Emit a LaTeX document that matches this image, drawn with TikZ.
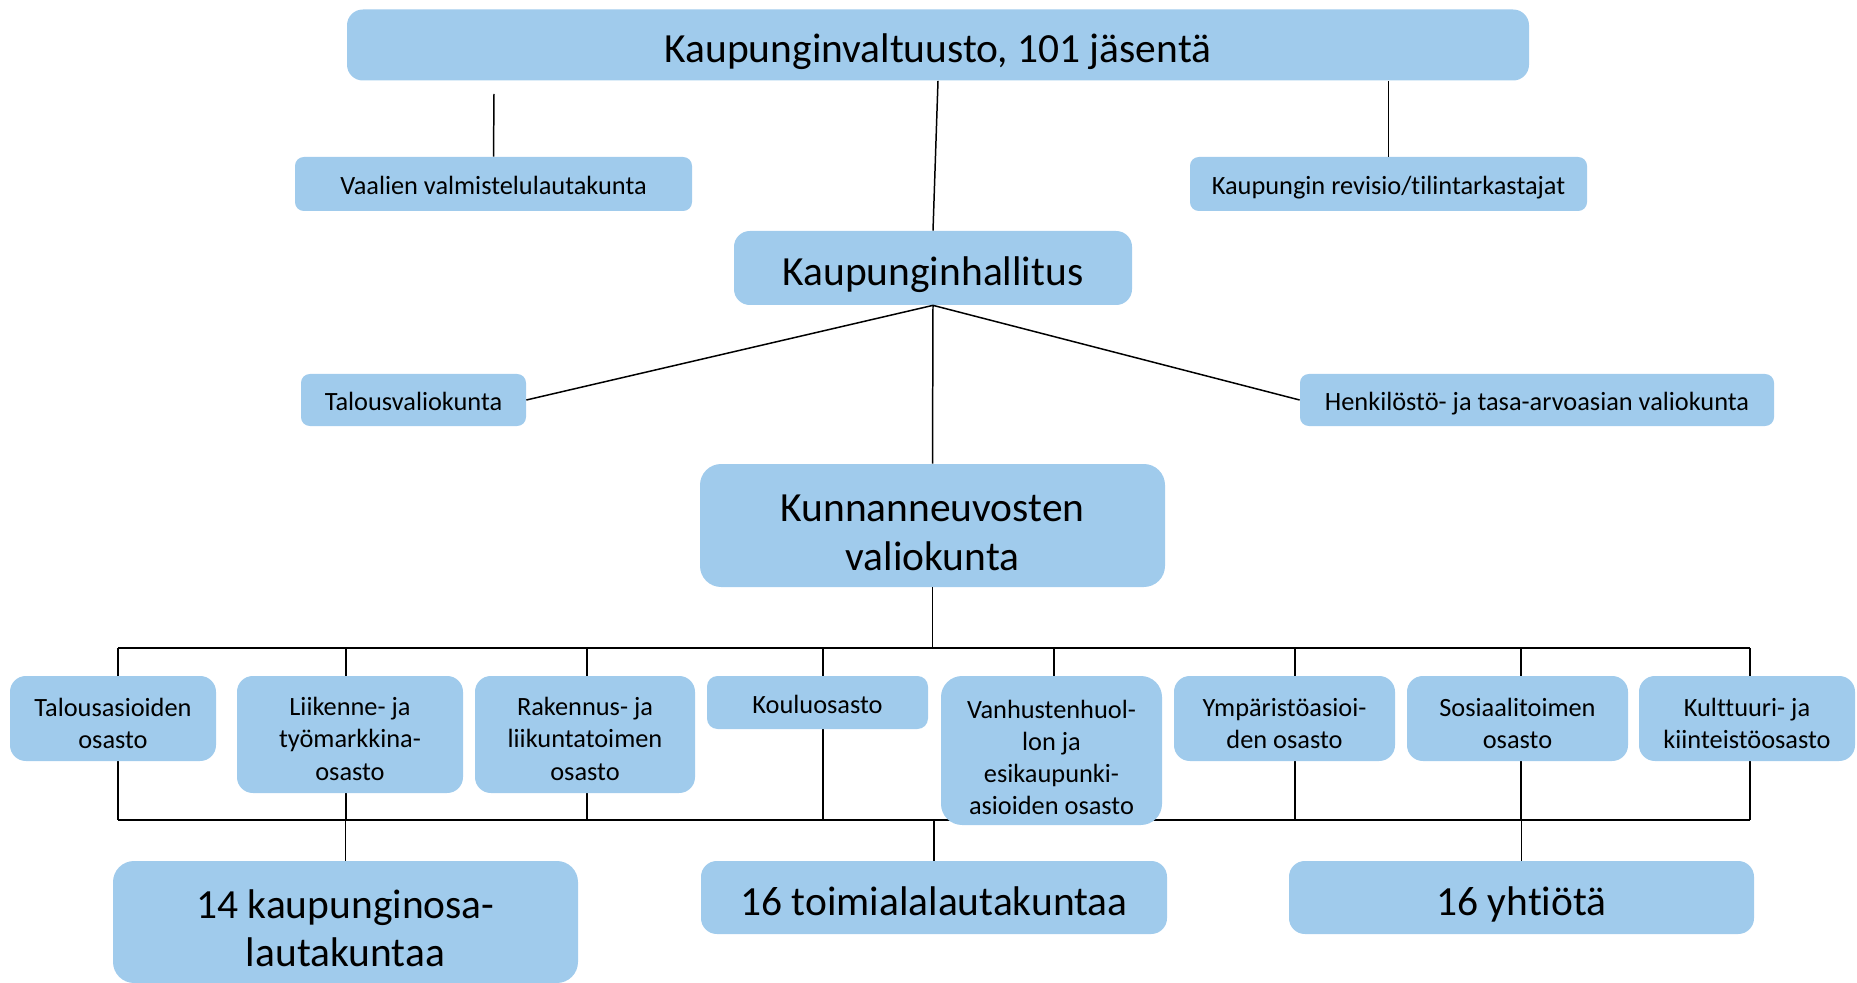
\documentclass[tikz,border=0pt]{standalone}
\usepackage{fontspec}
\setmainfont[Ligatures=NoCommon]{Carlito}
\usepackage{xcolor}
\usetikzlibrary{positioning,calc}
\definecolor{boxblue}{HTML}{A0CBEC}

\begin{document}
\begin{tikzpicture}[x=0.02cm,y=-0.02cm,
    box/.style={fill=boxblue,rounded corners=9pt,inner sep=0pt,align=center},
    bigbox/.style={box,font=\fontsize{23.6}{27.5}\selectfont},
    smallbox/.style={box,rounded corners=5pt,font=\fontsize{15}{18.4}\selectfont},
    deptbox/.style={box,rounded corners=9pt,font=\fontsize{15}{18.4}\selectfont},
    bigone/.style={text height=20.2pt,text depth=0pt},
    bigtwo/.style={text height=50.7pt,text depth=0pt},
    smallone/.style={text height=12.5pt,text depth=0pt},
    smalltwo/.style={text height=34pt,text depth=0pt},
    smallthree/.style={text height=51.8pt,text depth=0pt},
    smallfour/.style={text height=73.4pt,text depth=0pt},
    link/.style={line width=0.85pt},
    bus/.style={line width=1.4pt}]
    \useasboundingbox (0,0) rectangle (1857,983);

    % Lines first, boxes on top
    \coordinate (t1) at (118,648);  \coordinate (b1) at (118,820);
    \coordinate (t2) at (346,648);  \coordinate (b2) at (346,820);
    \coordinate (t3) at (587,648);  \coordinate (b3) at (587,820);
    \coordinate (t4) at (823,648);  \coordinate (b4) at (823,820);
    \coordinate (t5) at (1054,648); \coordinate (b5) at (1054,820);
    \coordinate (t6) at (1295,648); \coordinate (b6) at (1295,820);
    \coordinate (t7) at (1521,648); \coordinate (b7) at (1521,820);
    \coordinate (t8) at (1750,648); \coordinate (b8) at (1750,820);
    \coordinate (vaalitop) at (494,94);

    % Top level
    \node[bigbox,bigone,minimum width=1182*0.02cm,minimum height=71*0.02cm] (valtuusto) at (938,45) {Kaupunginvaltuusto, 101 jäsentä};
    \node[smallbox,smallone,minimum width=397*0.02cm,minimum height=54*0.02cm] (vaalit) at (493.5,184) {Vaalien valmistelulautakunta};
    \node[smallbox,smallone,minimum width=397*0.02cm,minimum height=54*0.02cm] (revisio) at (1388.5,184) {Kaupungin revisio/tilintarkastajat};
    \node[bigbox,bigone,minimum width=398*0.02cm,minimum height=74*0.02cm] (hallitus) at (933,268) {Kaupunginhallitus};

    % Valiokunnat
    \node[smallbox,smallone,minimum width=225*0.02cm,minimum height=52*0.02cm] (talous) at (413.5,400) {Talousvaliokunta};
    \node[smallbox,smallone,minimum width=474*0.02cm,minimum height=52*0.02cm] (henkilosto) at (1537,400) {Henkilöstö- ja tasa-arvoasian valiokunta};
    \node[bigbox,bigtwo,rounded corners=12pt,minimum width=465*0.02cm,minimum height=123*0.02cm] (kunnan) at (932.5,525.5) {Kunnanneuvosten\\valiokunta};

    \draw[link] (vaalitop) -- (vaalit.north);
    \draw[link] (revisio.north |- valtuusto.south) -- (revisio.north);
    \draw[link] (valtuusto.south) -- (hallitus.north);
    \draw[link] (hallitus.south) -- (talous.east);
    \draw[link] (hallitus.south) -- (henkilosto.west);
    \draw[link] (hallitus.south) -- (kunnan.north);

    % Buses
    \draw[link] (kunnan.south) -- (kunnan.south |- t1);
    \draw[bus] (t1) -- (t8);
    \draw[bus] (b1) -- (b8);
    \foreach \i in {1,...,8} {
        \draw[link] (t\i) -- (b\i);
    }

    % Bottom row
    \node[bigbox,bigtwo,rounded corners=12pt,minimum width=465*0.02cm,minimum height=122*0.02cm] (osat) at (345.5,922) {14 kaupunginosa-\\lautakuntaa};
    \node[bigbox,bigone,minimum width=466*0.02cm,minimum height=73*0.02cm] (toimiala) at (934,897.5) {16 toimialalautakuntaa};
    \node[bigbox,bigone,minimum width=465*0.02cm,minimum height=73*0.02cm] (yhtiot) at (1521.5,897.5) {16 yhtiötä};
    \draw[link] (osat.north |- b1) -- (osat.north);
    \draw[link] (toimiala.north |- b1) -- (toimiala.north);
    \draw[link] (yhtiot.north |- b1) -- (yhtiot.north);

    % Osastot
    \node[deptbox,smalltwo,minimum width=206*0.02cm,minimum height=85*0.02cm] (d1) at (113,718.5) {Talousasioiden\\osasto};
    \node[deptbox,smallthree,minimum width=226*0.02cm,minimum height=117*0.02cm] (d2) at (350,734.5) {Liikenne- ja\\työmarkkina-\\osasto};
    \node[deptbox,smallthree,minimum width=220*0.02cm,minimum height=117*0.02cm] (d3) at (585,734.5) {Rakennus- ja\\liikuntatoimen\\osasto};
    \node[deptbox,smallone,rounded corners=6pt,minimum width=221*0.02cm,minimum height=53*0.02cm] (d4) at (817.5,702.5) {Kouluosasto};
    \node[deptbox,smallfour,rounded corners=12pt,minimum width=221*0.02cm,minimum height=149*0.02cm] (d5) at (1051.5,750.5) {Vanhustenhuol-\\lon ja\\esikaupunki-\\asioiden osasto};
    \node[deptbox,smalltwo,minimum width=221*0.02cm,minimum height=85*0.02cm] (d6) at (1284.5,718.5) {Ympäristöasioi-\\den osasto};
    \node[deptbox,smalltwo,minimum width=221*0.02cm,minimum height=85*0.02cm] (d7) at (1517.5,718.5) {Sosiaalitoimen\\osasto};
    \node[deptbox,smalltwo,minimum width=216*0.02cm,minimum height=85*0.02cm] (d8) at (1747,718.5) {Kulttuuri- ja\\kiinteistöosasto};
\end{tikzpicture}
\end{document}
